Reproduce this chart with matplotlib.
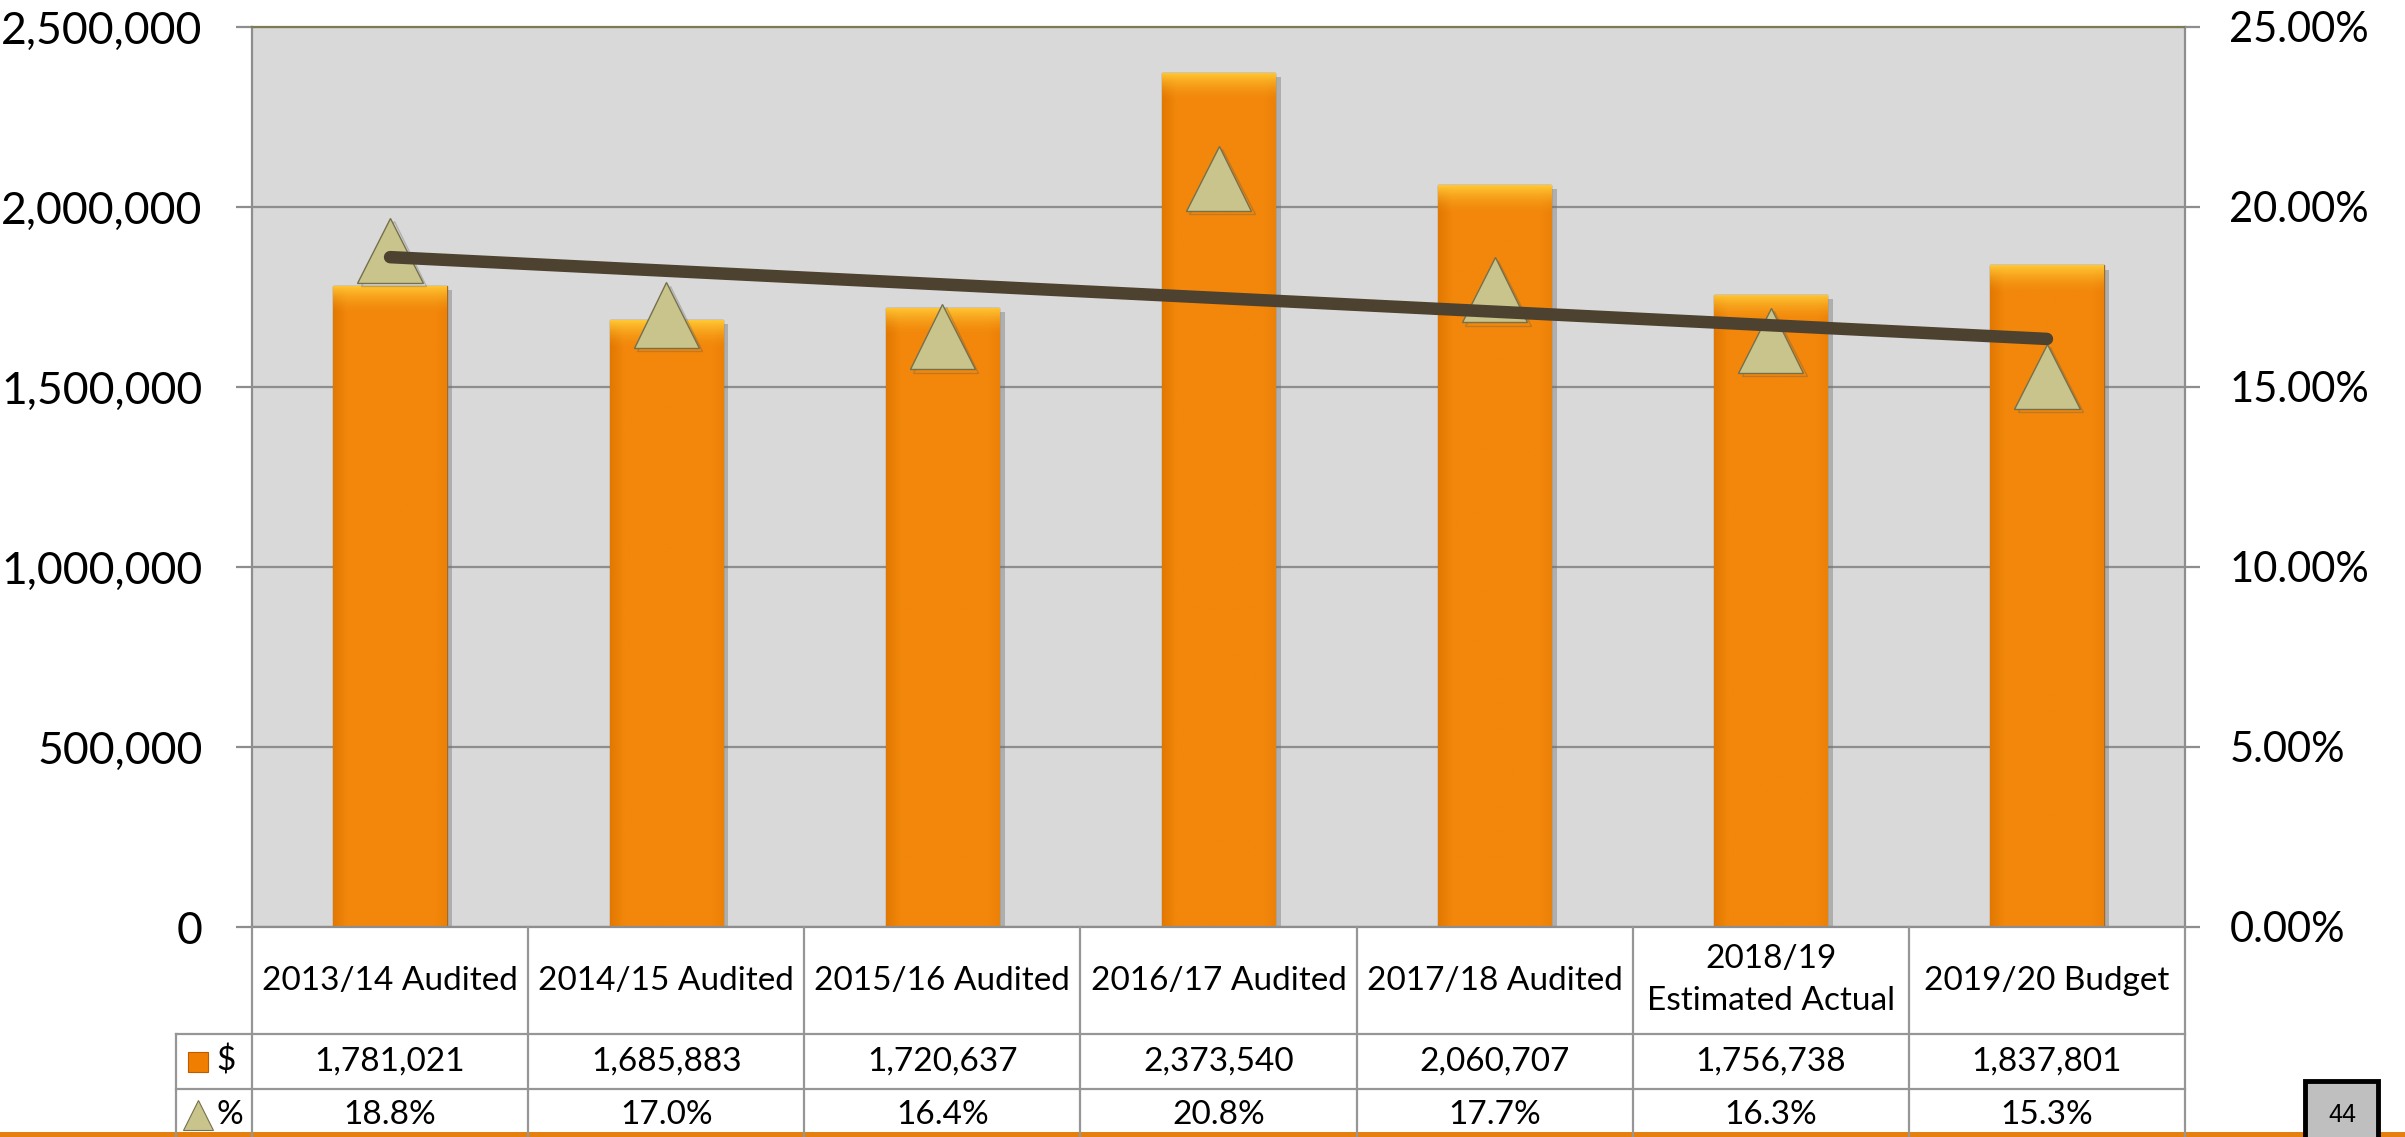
import numpy as np
import matplotlib
matplotlib.use("Agg")
import matplotlib.pyplot as plt
import matplotlib.patheffects as pe
from matplotlib.colors import to_rgb
from matplotlib.patches import Rectangle
from matplotlib.ticker import FuncFormatter, MultipleLocator

# data
categories = ["2013/14 Audited", "2014/15 Audited", "2015/16 Audited",
              "2016/17 Audited", "2017/18 Audited",
              "2018/19\nEstimated Actual", "2019/20 Budget"]
dollars = [1781021, 1685883, 1720637, 2373540, 2060707, 1756738, 1837801]
percents = [18.8, 17.0, 16.4, 20.8, 17.7, 16.3, 15.3]
page_number = "44"

plt.rcParams['font.family'] = ['Lato', 'DejaVu Sans']

W, H = 2405, 1137
fig = plt.figure(figsize=(W / 100, H / 100), dpi=100)

# main axes, placed from the pixel frame of the reference
left, right, top, bottom = 252, 2185, 27, 927
ax = fig.add_axes([left / W, 1 - bottom / H, (right - left) / W, (bottom - top) / H])
ax.set_facecolor('#D9D9D9')
x = np.arange(len(categories))
ax.set_xlim(-0.5, len(categories) - 0.5)
ax.set_ylim(0, 2500000)
ax.yaxis.set_major_locator(MultipleLocator(500000))
ax.yaxis.set_major_formatter(FuncFormatter(lambda v, p: f"{int(v):,}"))
ax.grid(axis='y', color='#8E8E8E', lw=1.6, zorder=0)
ax.set_axisbelow(True)
ax.set_xticks([])
ax.tick_params(axis='y', labelsize=32, length=11.5, width=1.6, color='#8E8E8E', pad=24)
for s in ['left', 'right', 'bottom']:
    ax.spines[s].set_color('#8E8E8E')
    ax.spines[s].set_linewidth(1.6)
ax.spines['top'].set_color('#7E7A52')
ax.spines['top'].set_linewidth(1.6)

base = np.array(to_rgb('#F2870B'))
dark = np.array(to_rgb('#DF7400'))
glow = np.array(to_rgb('#FFC633'))

bars = ax.bar(x, dollars, width=0.41, color='#F2870B', edgecolor='#A0692A', lw=1.0, zorder=2,
              path_effects=[pe.SimplePatchShadow(offset=(4, -3), shadow_rgbFace='#6E6E6E', alpha=0.4),
                            pe.Normal()])

# glossy shading on every bar
glow_units = 75000
for b in bars:
    x0, y0, w, h = b.get_x(), b.get_y(), b.get_width(), b.get_height()
    ny, nx = 400, 80
    t = np.linspace(0, 1, nx)
    edge = np.clip(1 - t / 0.12, 0, 1) * 0.8 + np.clip((t - 0.9) / 0.1, 0, 1) * 0.3
    img = base[None, None, :] * (1 - edge[None, :, None]) + dark[None, None, :] * edge[None, :, None]
    img = np.repeat(img, ny, axis=0)
    d = np.linspace(0, h, ny)
    g = np.clip(1 - d / glow_units, 0, 1) ** 1.6
    img = img * (1 - g[:, None, None]) + glow[None, None, :] * g[:, None, None]
    im = ax.imshow(img, extent=[x0, x0 + w, y0, y0 + h], origin='upper', aspect='auto', zorder=2.1)
    im.set_clip_path(b)
ax.set_xlim(-0.5, len(categories) - 0.5)
ax.set_ylim(0, 2500000)

# percent axis
ax2 = ax.twinx()
ax2.set_ylim(0, 25)
ax2.yaxis.set_major_locator(MultipleLocator(5))
ax2.yaxis.set_major_formatter(FuncFormatter(lambda v, p: f"{v:.2f}%"))
ax2.tick_params(axis='y', labelsize=30, length=11, width=1.6, color='#8E8E8E', pad=21)
for s in ax2.spines.values():
    s.set_visible(False)

ax2.plot(x, percents, linestyle='none', marker='^', ms=47, mfc='#C9C38C', mec='#75704C', mew=1.0,
         zorder=3, path_effects=[pe.SimpleLineShadow(offset=(2.5, -2.5), shadow_color='#555555', alpha=0.3),
                                 pe.Normal()])
coef = np.polyfit(x, percents, 1)
ax2.plot([x[0], x[-1]], np.polyval(coef, [x[0], x[-1]]), color='#4D4230', lw=9,
         solid_capstyle='round', zorder=4)

# data table below the plot
row_h = [107, 55, 55]
tb_top, tb_bottom = 927, 927 + sum(row_h)
axt = fig.add_axes([left / W, 1 - tb_bottom / H, (right - left) / W, sum(row_h) / H])
axt.set_xlim(-0.5, len(categories) - 0.5)
axt.set_ylim(-sum(row_h), 0)
axt.axis('off')
axt.patch.set_visible(False)

lab_x0 = -0.5 - (left - 176) / ((right - left) / len(categories))
grid_kw = dict(color='#969696', lw=1.6, clip_on=False, zorder=3)
y1 = -row_h[0]
y2 = -row_h[0] - row_h[1]
y3 = -sum(row_h)
for i in range(len(categories) + 1):
    axt.plot([i - 0.5, i - 0.5], [0, y3], **grid_kw)
axt.plot([lab_x0, lab_x0], [y1, y3], **grid_kw)
axt.plot([lab_x0, len(categories) - 0.5], [y1, y1], **grid_kw)
axt.plot([lab_x0, len(categories) - 0.5], [y2, y2], **grid_kw)

for i, c in enumerate(categories):
    axt.text(i, y1 / 2, c, ha='center', va='center', fontsize=24, linespacing=1.5)
    axt.text(i, (y1 + y2) / 2, f"{dollars[i]:,}", ha='center', va='center', fontsize=24)
    axt.text(i, (y2 + y3) / 2 + 2, f"{percents[i]:.1f}%", ha='center', va='center', fontsize=24)

slot = (right - left) / len(categories)
icon_x = -0.5 - (left - 198) / slot
text_x = -0.5 - (left - 216) / slot
axt.plot([icon_x], [(y1 + y2) / 2], marker='s', ms=15, mfc='#F07E00', mec='#C05A00', mew=0.8, clip_on=False)
axt.text(text_x, (y1 + y2) / 2, "$", ha='left', va='center', fontsize=24)
axt.plot([icon_x], [(y2 + y3) / 2 + 2], marker='^', ms=21, mfc='#C9C38C', mec='#75704C', mew=0.8, clip_on=False)
axt.text(text_x, (y2 + y3) / 2 + 2, "%", ha='left', va='center', fontsize=24)

# orange rule at the bottom of the slide
fig.patches.append(Rectangle((0, 0), 1, 5 / H, transform=fig.transFigure,
                             facecolor='#E5800F', edgecolor='none', zorder=-1))
# page number box
fig.patches.append(Rectangle((2305 / W, -10 / H), 73 / W, (1137 - 1081 + 10) / H, transform=fig.transFigure,
                             facecolor='#BFBFBF', edgecolor='black', lw=3.5, zorder=5))
fig.text(2342 / W, 1 - 1115 / H, page_number, ha='center', va='center', fontsize=18,
         family='Liberation Sans', zorder=6)

fig.savefig("out.png", dpi=100)
